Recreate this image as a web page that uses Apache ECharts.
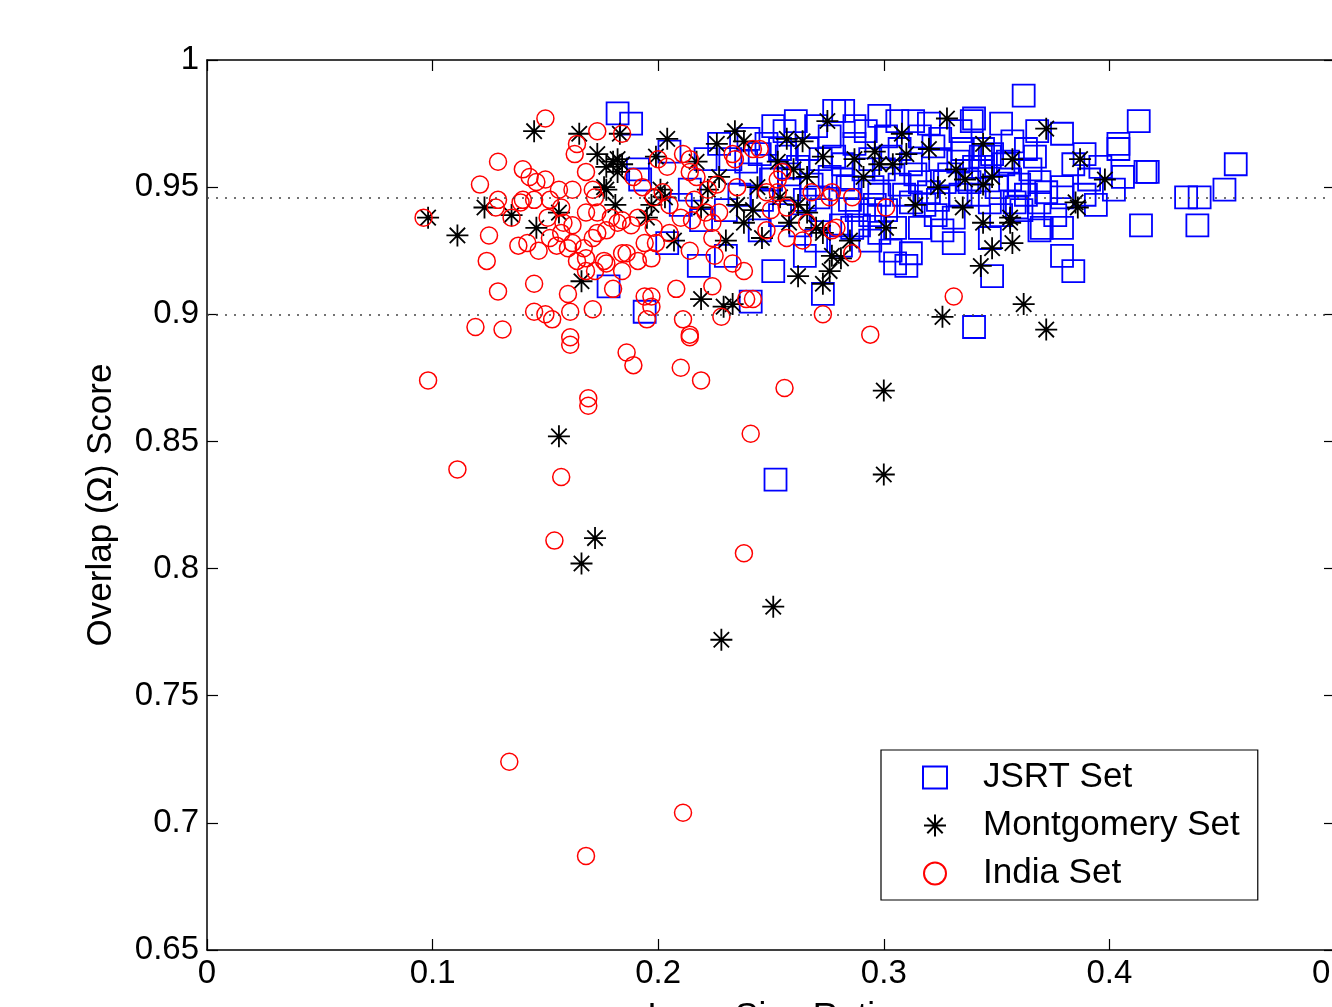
<!DOCTYPE html>
<html>
<head>
<meta charset="utf-8">
<script src="https://cdn.jsdelivr.net/npm/echarts@6/dist/echarts.min.js"></script>
<style>
html,body{margin:0;padding:0;background:#fff;}
#chart{width:1332px;height:1007px;}
</style>
</head>
<body>
<div id="chart"></div>
<script>
// ---- data ----
const xTicks = [0, 0.1, 0.2, 0.3, 0.4, 0.5];
const yTicks = [0.65, 0.7, 0.75, 0.8, 0.85, 0.9, 0.95, 1];
const referenceLines = [0.946, 0.9];
const seriesNames = ['JSRT Set', 'Montgomery Set', 'India Set'];

const jsrtPoints = [
[0.182,0.979],[0.188,0.975],[0.178,0.911],[0.194,0.901],[0.218,0.919],[0.241,0.905],[0.251,0.917],[0.273,0.908],[0.252,0.835],[0.191,0.957],
[0.192,0.953],[0.205,0.964],[0.251,0.974],[0.256,0.972],[0.270,0.974],[0.276,0.970],[0.278,0.980],[0.227,0.967],[0.221,0.961],[0.232,0.961],
[0.240,0.969],[0.245,0.963],[0.248,0.967],[0.257,0.962],[0.266,0.965],[0.272,0.961],[0.230,0.923],[0.204,0.928],[0.210,0.943],[0.219,0.937],
[0.250,0.953],[0.258,0.949],[0.265,0.945],[0.254,0.939],[0.263,0.935],[0.272,0.941],[0.281,0.935],[0.245,0.933],[0.270,0.929],[0.276,0.954],
[0.362,0.986],[0.282,0.980],[0.298,0.978],[0.306,0.976],[0.313,0.976],[0.320,0.975],[0.340,0.977],[0.352,0.975],[0.368,0.972],[0.292,0.972],
[0.301,0.970],[0.316,0.970],[0.322,0.966],[0.335,0.965],[0.344,0.965],[0.347,0.962],[0.357,0.968],[0.363,0.965],[0.282,0.959],[0.300,0.957],
[0.312,0.959],[0.325,0.961],[0.340,0.958],[0.353,0.959],[0.365,0.957],[0.282,0.953],[0.295,0.950],[0.316,0.952],[0.320,0.948],[0.338,0.952],
[0.356,0.953],[0.369,0.952],[0.288,0.941],[0.301,0.941],[0.312,0.944],[0.324,0.945],[0.331,0.938],[0.347,0.944],[0.358,0.944],[0.369,0.944],
[0.286,0.934],[0.305,0.934],[0.316,0.934],[0.347,0.930],[0.369,0.933],[0.303,0.925],[0.312,0.924],[0.305,0.920],[0.310,0.919],[0.331,0.928],
[0.348,0.915],[0.340,0.895],[0.339,0.976],[0.379,0.971],[0.413,0.976],[0.404,0.967],[0.404,0.965],[0.456,0.959],[0.417,0.956],[0.416,0.956],
[0.406,0.954],[0.396,0.958],[0.384,0.959],[0.379,0.950],[0.389,0.947],[0.360,0.951],[0.451,0.949],[0.434,0.946],[0.440,0.946],[0.394,0.943],
[0.379,0.946],[0.359,0.942],[0.343,0.962],[0.348,0.963],[0.344,0.958],[0.337,0.953],[0.414,0.935],[0.439,0.935],[0.370,0.934],[0.379,0.934],
[0.379,0.923],[0.384,0.917],[0.287,0.967],[0.294,0.961],[0.307,0.965],[0.329,0.955],[0.307,0.951],[0.298,0.947],[0.334,0.947],[0.314,0.955],
[0.363,0.947],[0.294,0.939],[0.323,0.939],[0.352,0.939],[0.254,0.965],[0.241,0.955],[0.285,0.945],[0.236,0.947],[0.230,0.941],[0.214,0.949],
[0.265,0.923],[0.281,0.927],[0.294,0.929],[0.376,0.939],[0.391,0.953],[0.402,0.949],[0.334,0.972],[0.325,0.969],[0.287,0.974],[0.261,0.976],
[0.389,0.963],[0.262,0.958],[0.268,0.951],[0.278,0.962],[0.284,0.950],[0.291,0.957],[0.296,0.943],[0.303,0.962],[0.309,0.947],[0.318,0.943],
[0.327,0.952],[0.333,0.960],[0.342,0.947],[0.350,0.950],[0.355,0.960],[0.361,0.941],[0.367,0.962],[0.372,0.948],[0.289,0.935],[0.298,0.932],
[0.326,0.933],[0.258,0.955],[0.246,0.945],[0.239,0.960],[0.271,0.946]
];

const montgomeryPoints = [
[0.145,0.972],[0.165,0.971],[0.183,0.971],[0.173,0.963],[0.180,0.960],[0.182,0.961],[0.184,0.959],[0.177,0.958],[0.182,0.956],[0.177,0.949],
[0.176,0.950],[0.181,0.943],[0.123,0.942],[0.135,0.939],[0.156,0.940],[0.098,0.938],[0.111,0.931],[0.146,0.934],[0.166,0.913],[0.204,0.969],
[0.199,0.962],[0.226,0.967],[0.234,0.972],[0.238,0.968],[0.257,0.969],[0.264,0.968],[0.275,0.976],[0.217,0.960],[0.201,0.949],[0.203,0.946],
[0.222,0.949],[0.227,0.954],[0.197,0.943],[0.195,0.938],[0.219,0.942],[0.235,0.943],[0.244,0.950],[0.242,0.941],[0.253,0.960],[0.260,0.957],
[0.266,0.954],[0.273,0.962],[0.254,0.946],[0.262,0.943],[0.266,0.940],[0.270,0.934],[0.246,0.930],[0.207,0.929],[0.230,0.929],[0.273,0.932],
[0.277,0.923],[0.276,0.917],[0.262,0.915],[0.273,0.912],[0.219,0.906],[0.229,0.903],[0.233,0.904],[0.328,0.977],[0.372,0.973],[0.308,0.971],
[0.344,0.967],[0.296,0.964],[0.310,0.963],[0.287,0.961],[0.298,0.959],[0.304,0.959],[0.357,0.961],[0.332,0.957],[0.291,0.954],[0.336,0.953],
[0.324,0.950],[0.348,0.954],[0.344,0.951],[0.335,0.942],[0.301,0.934],[0.344,0.936],[0.356,0.938],[0.356,0.936],[0.357,0.928],[0.348,0.926],
[0.343,0.919],[0.281,0.922],[0.362,0.904],[0.326,0.899],[0.372,0.894],[0.387,0.961],[0.398,0.953],[0.385,0.944],[0.386,0.942],[0.156,0.852],
[0.300,0.870],[0.300,0.837],[0.172,0.812],[0.166,0.802],[0.251,0.785],[0.228,0.772],[0.238,0.936],[0.258,0.936],[0.285,0.929],[0.314,0.943],
[0.320,0.965]
];

const indiaPoints = [
[0.150,0.977],[0.173,0.972],[0.164,0.967],[0.163,0.963],[0.129,0.960],[0.140,0.957],[0.143,0.954],[0.146,0.952],[0.150,0.953],[0.121,0.951],
[0.168,0.956],[0.156,0.949],[0.162,0.949],[0.171,0.949],[0.172,0.946],[0.129,0.945],[0.128,0.942],[0.140,0.945],[0.145,0.945],[0.139,0.944],
[0.152,0.945],[0.157,0.942],[0.096,0.938],[0.135,0.938],[0.151,0.938],[0.158,0.936],[0.162,0.935],[0.168,0.940],[0.173,0.940],[0.179,0.938],
[0.182,0.936],[0.125,0.931],[0.138,0.927],[0.142,0.928],[0.147,0.925],[0.152,0.930],[0.157,0.932],[0.162,0.928],[0.155,0.927],[0.160,0.926],
[0.171,0.930],[0.173,0.932],[0.177,0.933],[0.167,0.926],[0.124,0.921],[0.164,0.921],[0.168,0.922],[0.176,0.921],[0.177,0.920],[0.184,0.924],
[0.168,0.917],[0.172,0.917],[0.184,0.917],[0.145,0.912],[0.129,0.909],[0.160,0.908],[0.180,0.910],[0.171,0.902],[0.145,0.901],[0.150,0.900],
[0.153,0.898],[0.161,0.901],[0.119,0.895],[0.131,0.894],[0.161,0.891],[0.184,0.971],[0.211,0.963],[0.214,0.961],[0.200,0.961],[0.233,0.963],
[0.242,0.965],[0.245,0.965],[0.234,0.961],[0.189,0.954],[0.193,0.950],[0.204,0.958],[0.214,0.956],[0.217,0.954],[0.222,0.949],[0.226,0.951],
[0.235,0.950],[0.255,0.956],[0.253,0.953],[0.248,0.948],[0.253,0.948],[0.268,0.948],[0.277,0.948],[0.276,0.946],[0.198,0.946],[0.202,0.948],
[0.205,0.943],[0.216,0.945],[0.184,0.937],[0.188,0.935],[0.191,0.938],[0.198,0.934],[0.210,0.938],[0.215,0.937],[0.221,0.940],[0.227,0.940],
[0.224,0.936],[0.205,0.932],[0.224,0.930],[0.199,0.928],[0.194,0.928],[0.186,0.924],[0.191,0.921],[0.197,0.922],[0.214,0.925],[0.225,0.923],
[0.233,0.920],[0.238,0.917],[0.250,0.941],[0.257,0.942],[0.248,0.933],[0.257,0.930],[0.264,0.929],[0.266,0.936],[0.277,0.933],[0.208,0.910],
[0.224,0.911],[0.194,0.907],[0.197,0.907],[0.197,0.903],[0.239,0.906],[0.242,0.906],[0.211,0.898],[0.195,0.898],[0.214,0.892],[0.228,0.899],
[0.273,0.900],[0.286,0.946],[0.301,0.942],[0.279,0.934],[0.286,0.924],[0.331,0.907],[0.294,0.892],[0.098,0.874],[0.111,0.839],[0.134,0.724],
[0.211,0.704],[0.168,0.687],[0.154,0.811],[0.157,0.836],[0.169,0.867],[0.169,0.864],[0.241,0.853],[0.238,0.806],[0.256,0.871],[0.161,0.888],
[0.186,0.885],[0.189,0.880],[0.210,0.879],[0.219,0.874],[0.214,0.891]
];

// ---- chart ----
const FONT = '"Liberation Sans", Arial, Helvetica, sans-serif';
const chart = echarts.init(document.getElementById('chart'), null, {renderer: 'canvas'});
const asteriskPath = 'path://M10,0L10,20M0,10L20,10M3,3L17,17M3,17L17,3';
const fmtX = v => (Math.abs(v) < 1e-9 ? '0' : String(+v.toFixed(1)));
const fmtY = v => String(+v.toFixed(2));
const axisLineStyle = {color: '#000', width: 1.5};

const option = {
  backgroundColor: '#fff',
  animation: false,
  grid: {left: 207, top: 60, width: 1128, height: 890, containLabel: false, outerBoundsMode: 'none'},
  xAxis: [{
    type: 'value', position: 'bottom',
    min: xTicks[0], max: xTicks[xTicks.length - 1], interval: 0.1,
    name: 'Lung Size Ratio', nameLocation: 'middle', nameGap: 50,
    nameTextStyle: {fontFamily: FONT, fontSize: 35, color: '#000'},
    axisLine: {show: true, onZero: false, lineStyle: axisLineStyle},
    axisTick: {show: true, inside: true, length: 11, lineStyle: {color: '#000', width: 1.2}},
    axisLabel: {show: true, margin: 7, fontFamily: FONT, fontSize: 33, color: '#000', formatter: fmtX, showMaxLabel: true, hideOverlap: false},
    splitLine: {show: false}
  }, {
    type: 'value', position: 'top',
    min: xTicks[0], max: xTicks[xTicks.length - 1], interval: 0.1,
    axisLine: {show: true, onZero: false, lineStyle: axisLineStyle},
    axisTick: {show: true, inside: true, length: 11, lineStyle: {color: '#000', width: 1.2}},
    axisLabel: {show: false}, splitLine: {show: false}
  }],
  yAxis: [{
    type: 'value', position: 'left',
    min: yTicks[0], max: yTicks[yTicks.length - 1], interval: 0.05,
    name: 'Overlap (Ω) Score', nameLocation: 'middle', nameGap: 88,
    nameTextStyle: {fontFamily: FONT, fontSize: 35, color: '#000'},
    axisLine: {show: true, onZero: false, lineStyle: axisLineStyle},
    axisTick: {show: true, inside: true, length: 11, lineStyle: {color: '#000', width: 1.2}},
    axisLabel: {show: true, margin: 8, fontFamily: FONT, fontSize: 33, color: '#000', formatter: fmtY},
    splitLine: {show: false}
  }, {
    type: 'value', position: 'right',
    min: yTicks[0], max: yTicks[yTicks.length - 1], interval: 0.05,
    axisLine: {show: true, onZero: false, lineStyle: axisLineStyle},
    axisTick: {show: true, inside: true, length: 11, lineStyle: {color: '#000', width: 1.2}},
    axisLabel: {show: false}, splitLine: {show: false}
  }],
  legend: {
    orient: 'vertical', left: 881, top: 750,
    padding: [10, 18, 9, 41], itemGap: 13,
    itemWidth: 24, itemHeight: 22,
    backgroundColor: '#fff', borderColor: '#000', borderWidth: 1.2, borderRadius: 0,
    textStyle: {fontFamily: FONT, fontSize: 35, color: '#000', lineHeight: 35, padding: [0, 0, 0, 31]},
    data: seriesNames
  },
  series: [{
    name: seriesNames[0], type: 'scatter', xAxisIndex: 0, yAxisIndex: 0,
    symbol: 'rect', symbolSize: 22,
    itemStyle: {color: 'rgba(0,0,0,0)', borderColor: '#0000ff', borderWidth: 1.8, opacity: 1},
    data: jsrtPoints,
    markLine: {
      silent: true, precision: 4, symbol: ['none', 'none'], label: {show: false},
      lineStyle: {type: [2, 7], color: '#444', width: 1.6},
      data: referenceLines.map(v => ({yAxis: v}))
    }
  }, {
    name: seriesNames[1], type: 'scatter', xAxisIndex: 0, yAxisIndex: 0,
    symbol: asteriskPath, symbolSize: 22,
    itemStyle: {color: 'rgba(0,0,0,0)', borderColor: '#000', borderWidth: 1.8, opacity: 1},
    data: montgomeryPoints
  }, {
    name: seriesNames[2], type: 'scatter', xAxisIndex: 0, yAxisIndex: 0,
    symbol: 'circle', symbolSize: 17,
    itemStyle: {color: 'rgba(0,0,0,0)', borderColor: '#ff0000', borderWidth: 1.5, opacity: 1},
    data: indiaPoints
  }]
};
chart.setOption(option);
</script>
</body>
</html>
